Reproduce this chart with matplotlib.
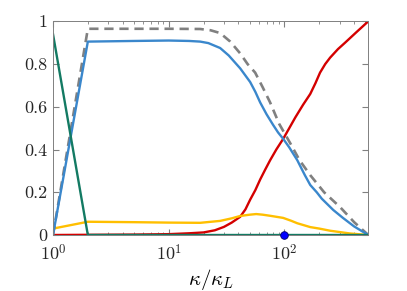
import numpy as np
import matplotlib as mpl
mpl.use('Agg')
import matplotlib.pyplot as plt

mpl.rcParams['font.family'] = 'serif'
mpl.rcParams['font.serif'] = ['cmr10', 'DejaVu Serif']
mpl.rcParams['mathtext.fontset'] = 'cm'
mpl.rcParams['axes.formatter.use_mathtext'] = True
mpl.rcParams['font.size'] = 13

# data (x is kappa/kappa_L)
x_blue = [1, 2, 5, 10, 15, 18.7, 22, 27.8, 33, 41.4, 50.5, 56, 61.7, 70, 79.8, 88, 97.5,
          110, 129, 150, 167, 190, 210, 264, 320, 400, 530]
y_blue = [0, 0.905, 0.908, 0.91, 0.908, 0.905, 0.898, 0.875, 0.84, 0.78, 0.716, 0.67, 0.62,
          0.565, 0.515, 0.48, 0.45, 0.41, 0.35, 0.28, 0.234, 0.2, 0.17, 0.117, 0.08, 0.04, 0]

x_gray = [1, 2, 10, 18.7, 23, 27.8, 34, 41.4, 48, 55.8, 65, 75.2, 90, 112, 135, 167, 220,
          303, 400, 530]
y_gray = [0, 0.965, 0.965, 0.964, 0.958, 0.945, 0.905, 0.85, 0.80, 0.76, 0.69, 0.62, 0.52,
          0.43, 0.35, 0.28, 0.2, 0.13, 0.06, 0]

x_red = [1, 5, 10, 15, 20, 25, 30, 35, 41.4, 46, 50.5, 56, 61.7, 68, 75.2, 85, 97.5, 110,
         124, 145, 167, 185, 203, 225, 248, 290, 334, 420, 530]
y_red = [0, 0.002, 0.004, 0.008, 0.012, 0.022, 0.038, 0.058, 0.085, 0.12, 0.165, 0.21, 0.26,
         0.305, 0.35, 0.40, 0.45, 0.50, 0.55, 0.61, 0.66, 0.71, 0.76, 0.80, 0.83, 0.87, 0.90,
         0.95, 1.0]

x_yellow = [1, 2, 5, 10, 18.7, 27.8, 35, 41.4, 50, 57, 65, 75, 97.5, 115, 129, 167, 200,
            248, 370, 530]
y_yellow = [0.03, 0.062, 0.06, 0.058, 0.057, 0.066, 0.078, 0.089, 0.095, 0.098, 0.095, 0.09,
            0.08, 0.066, 0.055, 0.037, 0.03, 0.02, 0.007, 0]

x_green = [1, 2, 530]
y_green = [0.94, 0, 0]

x_dot = [100]
y_dot = [0]

fig = plt.figure(figsize=(4.07, 2.91), dpi=100)
ax = fig.add_axes([53 / 407, 1 - 235 / 291, (368.3 - 53) / 407, (235 - 21.3) / 291])

ax.plot(x_red, y_red, color='#d40000', lw=1.7)
ax.plot(x_yellow, y_yellow, color='#ffbf00', lw=1.7)
ax.plot(x_gray, y_gray, color='#808080', lw=1.9, ls=(0, (3.5, 2.2)))
ax.plot(x_blue, y_blue, color='#3a87cc', lw=1.7)
ax.plot(x_green, y_green, color='#137a63', lw=1.7)
ax.plot(x_dot, y_dot, 'o', color='#0000ff', mec='#00006a', mew=0.6, ms=5.5, clip_on=False, zorder=5)

ax.set_xscale('log')
ax.set_xlim(1, 530)
ax.set_ylim(0, 1)
ax.set_yticks([0, 0.2, 0.4, 0.6, 0.8, 1])
ax.set_yticklabels(['0', '0.2', '0.4', '0.6', '0.8', '1'])
ax.set_xticks([1, 10, 100])
ax.set_xticklabels([r'$10^0$', r'$10^1$', r'$10^2$'])
ax.tick_params(which='both', direction='in', top=True, right=True, color='#808080', labelcolor='#262626')
ax.tick_params(which='major', length=4)
ax.tick_params(axis='x', which='major', pad=6)
ax.tick_params(axis='y', which='major', pad=4)
ax.tick_params(which='minor', length=2)
for s in ax.spines.values():
    s.set_color('#808080')
    s.set_linewidth(0.7)
ax.set_xlabel(r'$\kappa/\kappa_L$', fontsize=15, labelpad=2)

plt.savefig('out.png', dpi=100)
